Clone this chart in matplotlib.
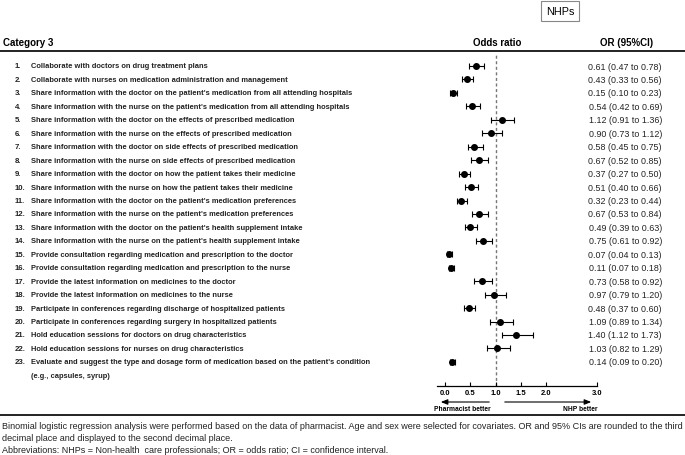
import matplotlib
matplotlib.use("Agg")
import matplotlib.pyplot as plt

# odds ratios and 95% CI
items = [
    "Collaborate with doctors on drug treatment plans",
    "Collaborate with nurses on medication administration and management",
    "Share information with the doctor on the patient's medication from all attending hospitals",
    "Share information with the nurse on the patient's medication from all attending hospitals",
    "Share information with the doctor on the effects of prescribed medication",
    "Share information with the nurse on the effects of prescribed medication",
    "Share information with the doctor on side effects of prescribed medication",
    "Share information with the nurse on side effects of prescribed medication",
    "Share information with the doctor on how the patient takes their medicine",
    "Share information with the nurse on how the patient takes their medicine",
    "Share information with the doctor on the patient's medication preferences",
    "Share information with the nurse on the patient's medication preferences",
    "Share information with the doctor on the patient's health supplement intake",
    "Share information with the nurse on the patient's health supplement intake",
    "Provide consultation regarding medication and prescription to the doctor",
    "Provide consultation regarding medication and prescription to the nurse",
    "Provide the latest information on medicines to the doctor",
    "Provide the latest information on medicines to the nurse",
    "Participate in conferences regarding discharge of hospitalized patients",
    "Participate in conferences regarding surgery in hospitalized patients",
    "Hold education sessions for doctors on drug characteristics",
    "Hold education sessions for nurses on drug characteristics",
    "Evaluate and suggest the type and dosage form of medication based on the patient's condition\n(e.g., capsules, syrup)",
]
odds = [0.61, 0.43, 0.15, 0.54, 1.12, 0.90, 0.58, 0.67, 0.37, 0.51, 0.32, 0.67,
        0.49, 0.75, 0.07, 0.11, 0.73, 0.97, 0.48, 1.09, 1.40, 1.03, 0.14]
ci_low = [0.47, 0.33, 0.10, 0.42, 0.91, 0.73, 0.45, 0.52, 0.27, 0.40, 0.23, 0.53,
          0.39, 0.61, 0.04, 0.07, 0.58, 0.79, 0.37, 0.89, 1.12, 0.82, 0.09]
ci_high = [0.78, 0.56, 0.23, 0.69, 1.36, 1.12, 0.75, 0.85, 0.50, 0.66, 0.44, 0.84,
           0.63, 0.92, 0.13, 0.18, 0.92, 1.20, 0.60, 1.34, 1.73, 1.29, 0.20]
xticks = [0.0, 0.5, 1.0, 1.5, 2.0, 3.0]

W, H = 685, 456
NARROW = ["Liberation Sans Narrow", "Liberation Sans", "DejaVu Sans"]
SANS = ["Liberation Sans", "DejaVu Sans"]

def fx(x):
    return x / W

def fy(y):
    return 1 - y / H

fig = plt.figure(figsize=(6.85, 4.56), dpi=100)

row0, step = 67, 13.45
rows = [row0 + i * step for i in range(len(items))]

# forest panel
ax_top, ax_bot = 55, 387
ax = fig.add_axes([fx(437), fy(ax_bot), fx(597) - fx(437), (ax_bot - ax_top) / H])
ax.set_xlim(-0.157, 2.99)
ax.set_ylim(ax_bot, ax_top)
ax.axvline(1.0, color="#777777", lw=1.0, ls=(0, (2.2, 1.8)), zorder=1)
err = [[o - l for o, l in zip(odds, ci_low)], [h - o for o, h in zip(odds, ci_high)]]
ax.errorbar(odds, rows, xerr=err, fmt="o", color="black", ms=4.0, lw=0.8,
            capsize=2.0, capthick=0.8, zorder=3)
for s in ["top", "left", "right"]:
    ax.spines[s].set_visible(False)
ax.spines["bottom"].set_linewidth(0.9)
ax.set_yticks([])
ax.set_xticks(xticks)
ax.set_xticklabels([f"{t:.1f}" for t in xticks], fontsize=5.5, fontweight="bold",
                   family=NARROW)
ax.tick_params(axis="x", direction="in", length=3, width=0.8, pad=2.5)
ax.patch.set_alpha(0)

# headers
fig.text(fx(3), fy(43), "Category 3", fontsize=7, fontweight="bold", family=SANS, va="center")
fig.text(fx(497), fy(43), "Odds ratio", fontsize=7, fontweight="bold", family=SANS,
         va="center", ha="center")
fig.text(fx(627), fy(43), "OR (95%CI)", fontsize=7, fontweight="bold", family=SANS,
         va="center", ha="center")
fig.add_artist(plt.Line2D([0, 1], [fy(52), fy(52)], color="#222222", lw=1.4))
fig.add_artist(plt.Line2D([0, 1], [fy(416), fy(416)], color="#222222", lw=1.4))

# NHPs box
fig.text(fx(560), fy(12), "NHPs", fontsize=7.8, family=SANS, ha="center", va="center",
         bbox=dict(boxstyle="square,pad=0.42", fc="white", ec="#888888", lw=0.8))

# row labels and values
for i, (lab, y) in enumerate(zip(items, rows)):
    fig.text(fx(15), fy(y), f"{i + 1}.", fontsize=5.6, fontweight="bold", family=NARROW,
             va="center", color="#222222")
    for k, part in enumerate(lab.split("\n")):
        fig.text(fx(31), fy(y + k * step), part, fontsize=5.45, fontweight="bold",
                 family=NARROW, va="center", color="#222222")
    fig.text(fx(662), fy(y), f"{odds[i]:.2f} ({ci_low[i]:.2f} to {ci_high[i]:.2f})",
             fontsize=6.4, family=SANS, va="center", ha="right", color="#222222")

# direction arrows
fig.add_artist(matplotlib.patches.FancyArrowPatch((fx(492), fy(403)), (fx(438), fy(403)),
               arrowstyle="-|>,head_length=4,head_width=1.6", color="black", lw=0.8,
               transform=fig.transFigure))
fig.add_artist(matplotlib.patches.FancyArrowPatch((fx(502), fy(403)), (fx(594), fy(403)),
               arrowstyle="-|>,head_length=4,head_width=1.6", color="black", lw=0.8,
               transform=fig.transFigure))
fig.text(fx(462), fy(410), "Pharmacist better", fontsize=4.8, fontweight="bold",
         family=NARROW, ha="center", va="center")
fig.text(fx(580), fy(410), "NHP better", fontsize=4.8, fontweight="bold",
         family=NARROW, ha="center", va="center")

# footnote
notes = [
    "Binomial logistic regression analysis were performed based on the data of pharmacist. "
    "Age and sex were selected for covariates. OR and 95% CIs are rounded to the third",
    "decimal place and displayed to the second decimal place.",
    "Abbreviations: NHPs = Non-health  care professionals; OR = odds ratio; CI = confidence interval.",
]
for k, line in enumerate(notes):
    fig.text(fx(2), fy(427 + k * 12), line, fontsize=6.5, family=NARROW, va="center",
             color="#222222")

fig.savefig("out.png", dpi=100)
